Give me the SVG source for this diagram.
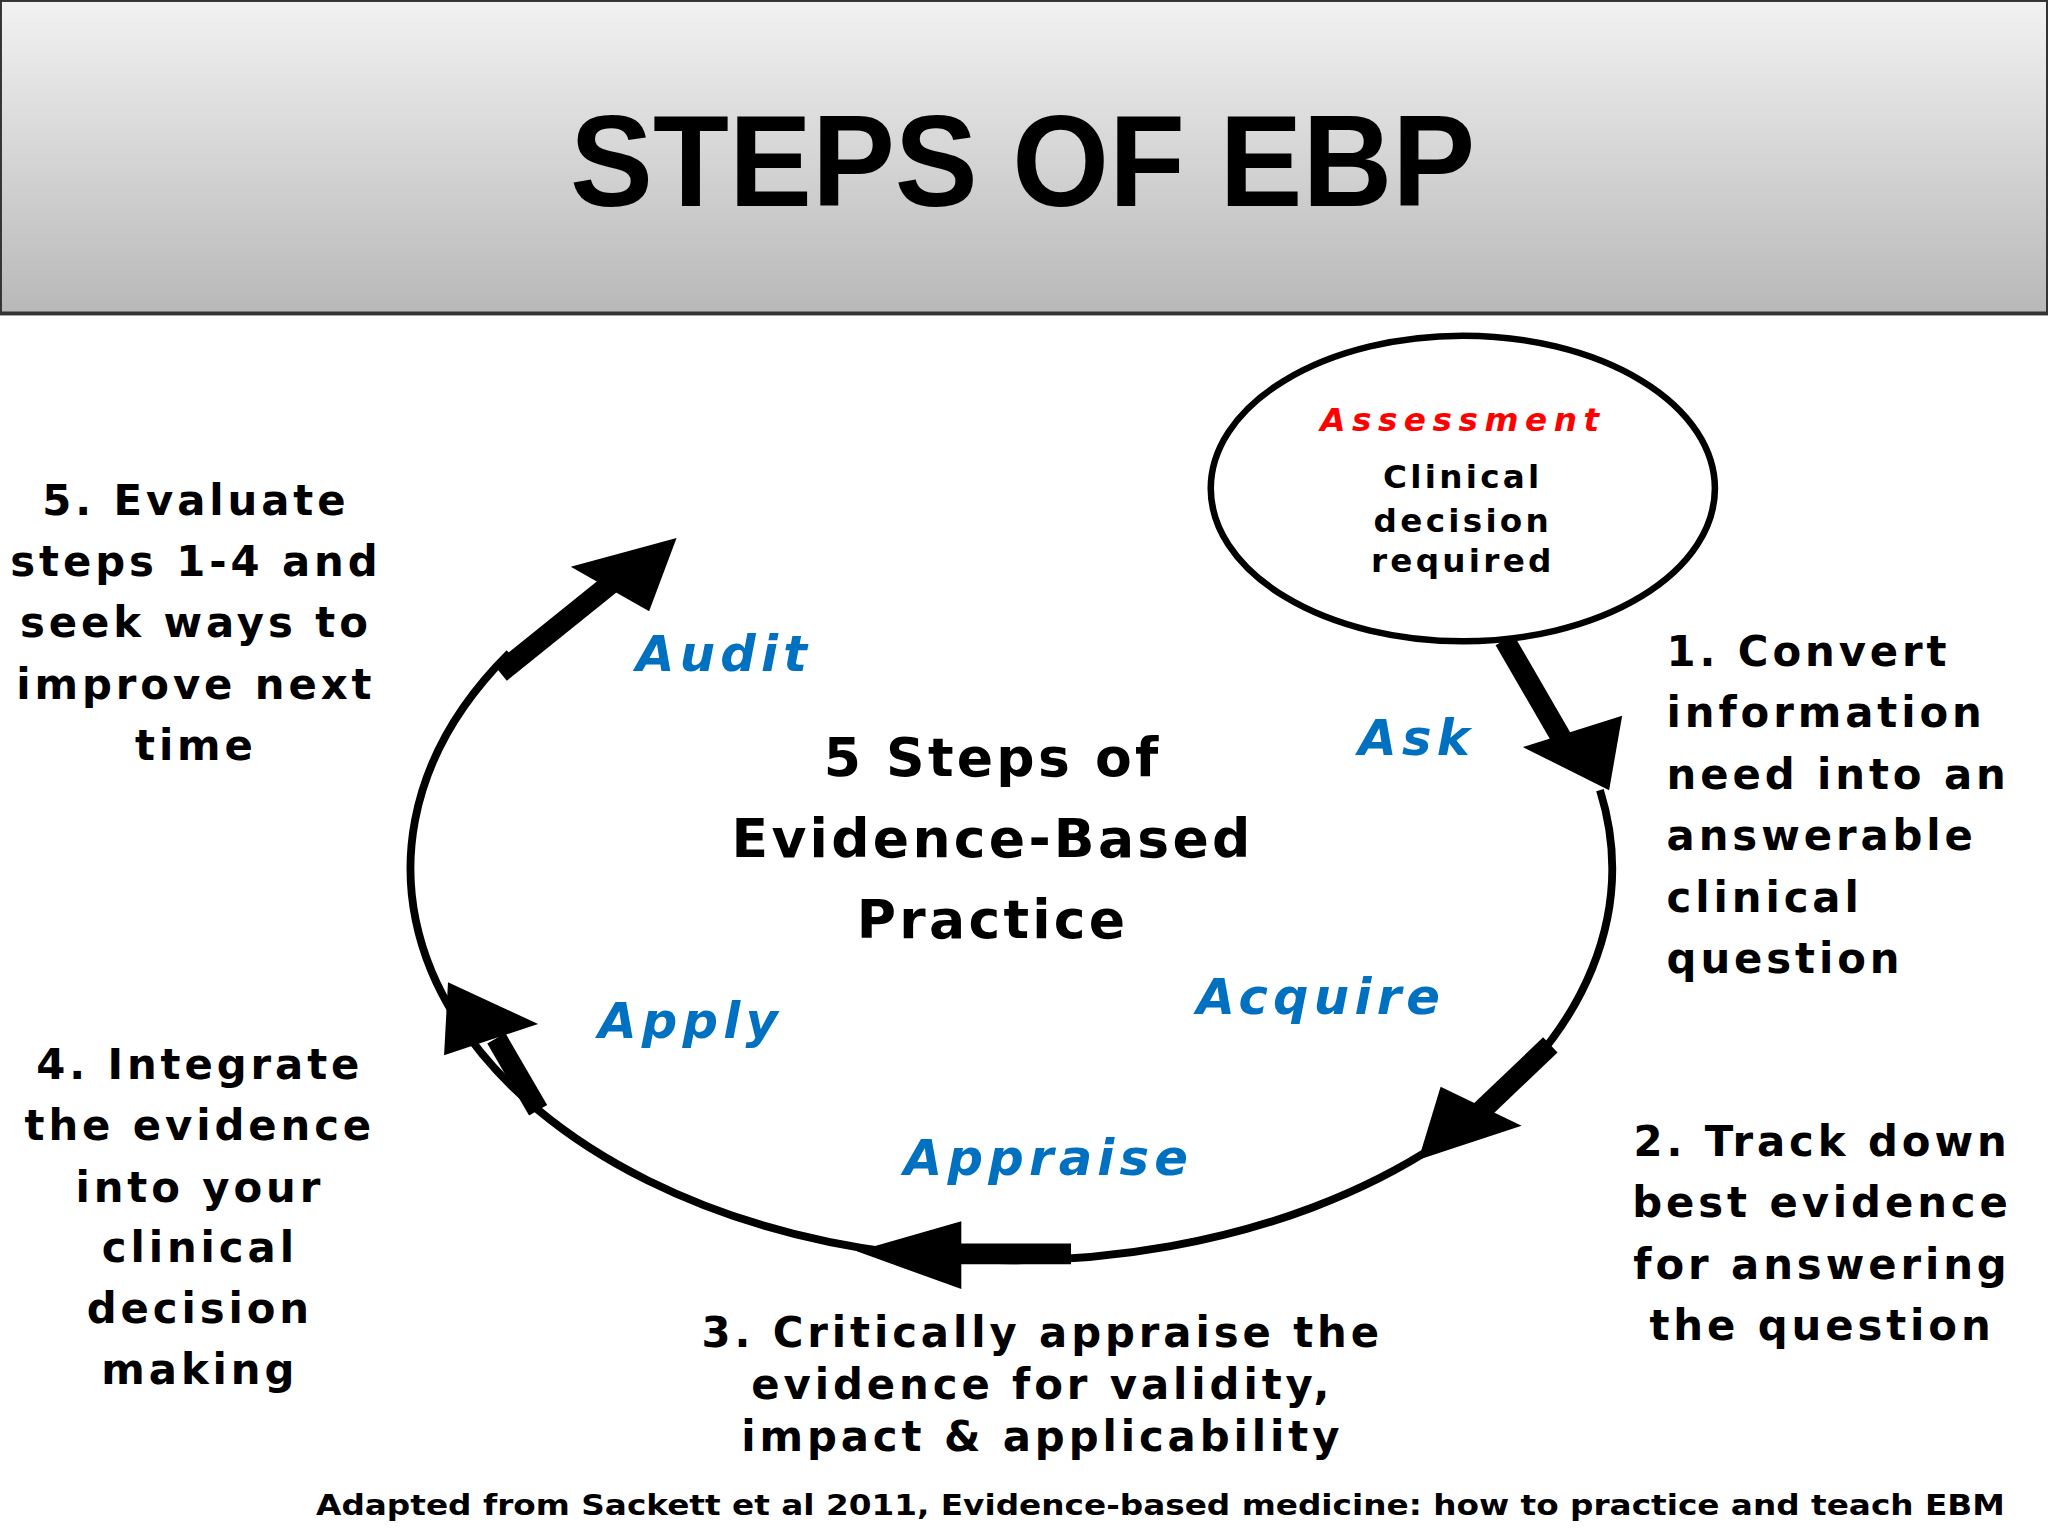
<svg xmlns="http://www.w3.org/2000/svg" width="2048" height="1536" viewBox="0 0 2048 1536">
<defs>
<linearGradient id="hg" x1="0" y1="0" x2="0" y2="1"><stop offset="0" stop-color="#f2f2f2"/><stop offset="1" stop-color="#b8b8b8"/></linearGradient>
<style>
.t{font-family:"DejaVu Sans",Verdana,sans-serif;font-weight:bold;fill:#000}
.s{font-size:32px;letter-spacing:3px}
.b{font-family:"DejaVu Sans",Verdana,sans-serif;font-weight:bold;font-style:italic;fill:#0070C0;font-size:38px;letter-spacing:4px}
.c{text-anchor:middle}
.ar{fill:#000;stroke:none}
.sh{stroke:#000;stroke-width:16;fill:none}
</style>
</defs>
<rect width="2048" height="1536" fill="#fff"/>
<g transform="scale(1.3061)">
<g id="header">
<rect x="0" y="0" width="1568" height="240" fill="url(#hg)" stroke="#333" stroke-width="3"/>
<text x="783" y="158" class="c" font-family="Liberation Sans,Arial,sans-serif" font-weight="bold" font-size="100" textLength="693" lengthAdjust="spacingAndGlyphs">STEPS OF EBP</text>
</g>
<g id="connectors">
<path d="M1225,605 A460,300 0 1 1 390,500" fill="none" stroke="#000" stroke-width="6"/>
<line class="sh" x1="1152" y1="490" x2="1203" y2="578"/>
<polygon class="ar" points="1166,572 1242,548 1232,605"/>
<line class="sh" x1="1187" y1="800" x2="1122" y2="862"/>
<polygon class="ar" points="1103,832 1165,862 1086,888"/>
<line class="sh" x1="820" y1="960" x2="728" y2="960"/>
<polygon class="ar" points="736,935 736,987 656,958"/>
<line class="sh" x1="412" y1="850" x2="380" y2="795"/>
<polygon class="ar" points="340,808 412,784 343,752"/>
<line class="sh" x1="383" y1="515" x2="470" y2="445"/>
<polygon class="ar" points="437,434 497,468 518,412"/>
</g>
<g id="assessment">
<ellipse cx="1120" cy="374" rx="193" ry="117" fill="#fff" stroke="#000" stroke-width="5"/>
<text x="1120" y="330" class="c" font-family="DejaVu Sans,Verdana,sans-serif" font-weight="bold" font-style="italic" font-size="25" letter-spacing="5" fill="#ff0000">Assessment</text>
<text class="t c" font-size="25" letter-spacing="2.5"><tspan x="1120" y="374">Clinical</tspan><tspan x="1120" y="407">decision</tspan><tspan x="1120" y="438">required</tspan></text>
</g>
<g id="center"><text class="t c" font-size="41" letter-spacing="2.5"><tspan x="760" y="594">5 Steps of</tspan><tspan x="760" y="656">Evidence-Based</tspan><tspan x="760" y="718">Practice</tspan></text></g>
<g id="labels">
<text class="b" x="487" y="514">Audit</text>
<text class="b" x="1040" y="578">Ask</text>
<text class="b" x="916" y="776">Acquire</text>
<text class="b" x="458" y="795">Apply</text>
<text class="b" x="692" y="900">Appraise</text>
</g>
<g id="step5"><text class="t c s"><tspan x="150" y="394">5. Evaluate</tspan><tspan x="150" y="441">steps 1-4 and</tspan><tspan x="150" y="488">seek ways to</tspan><tspan x="150" y="535">improve next</tspan><tspan x="150" y="582">time</tspan></text></g>
<g id="step4"><text class="t c s"><tspan x="153" y="826">4. Integrate</tspan><tspan x="153" y="873">the evidence</tspan><tspan x="153" y="920">into your</tspan><tspan x="153" y="966">clinical</tspan><tspan x="153" y="1013">decision</tspan><tspan x="153" y="1060">making</tspan></text></g>
<g id="step1"><text class="t s"><tspan x="1276" y="510">1. Convert</tspan><tspan x="1276" y="557">information</tspan><tspan x="1276" y="604">need into an</tspan><tspan x="1276" y="651">answerable</tspan><tspan x="1276" y="698">clinical</tspan><tspan x="1276" y="745">question</tspan></text></g>
<g id="step2"><text class="t c s"><tspan x="1395" y="885">2. Track down</tspan><tspan x="1395" y="932">best evidence</tspan><tspan x="1395" y="979">for answering</tspan><tspan x="1395" y="1026">the question</tspan></text></g>
<g id="step3"><text class="t c s"><tspan x="798" y="1031">3. Critically appraise the</tspan><tspan x="798" y="1071">evidence for validity,</tspan><tspan x="798" y="1111">impact &amp; applicability</tspan></text></g>
<text class="t" x="242" y="1160" font-size="22" textLength="1293" lengthAdjust="spacingAndGlyphs">Adapted from Sackett et al 2011, Evidence-based medicine: how to practice and teach EBM</text>
</g>
</svg>
